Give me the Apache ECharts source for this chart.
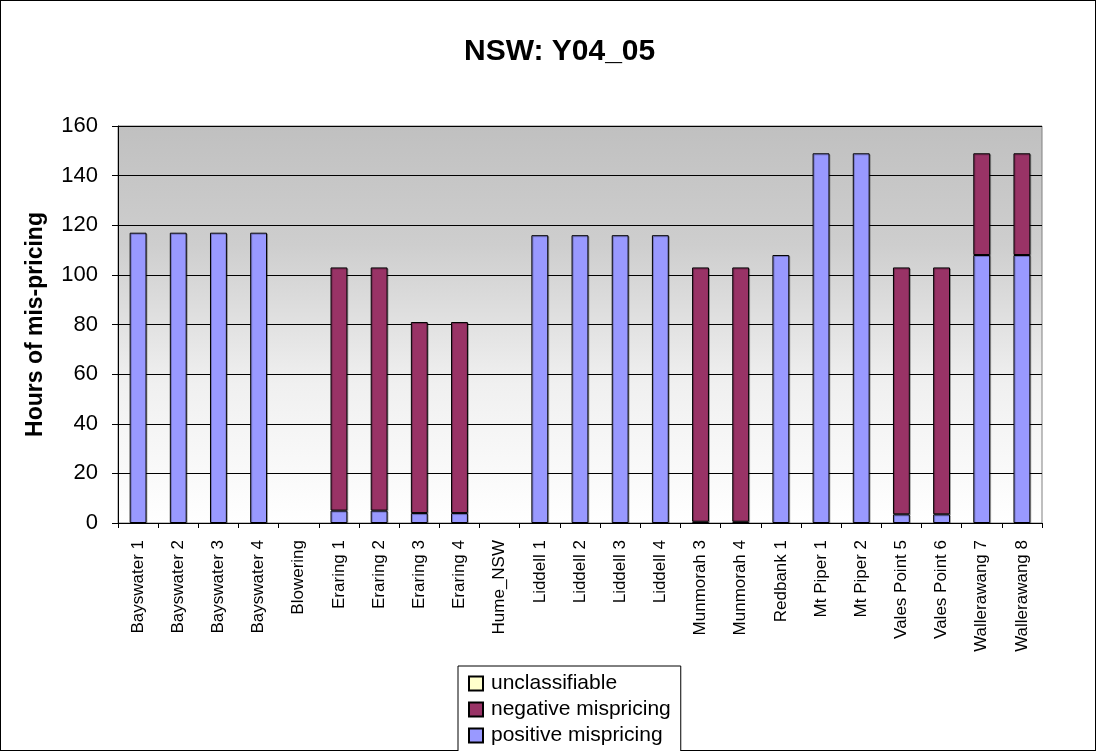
<!DOCTYPE html>
<html><head><meta charset="utf-8">
<script src="https://cdn.jsdelivr.net/npm/echarts@6/dist/echarts.min.js"></script>
<style>
html,body{margin:0;padding:0;background:#fff;}
#frame{position:absolute;left:0;top:0;width:1094px;height:749px;border:1px solid #000;}
#chart{position:absolute;left:0;top:0;width:1096px;height:751px;}
</style></head>
<body><div id="frame"></div><div id="chart"></div>
<script>
const categories = ["Bayswater 1","Bayswater 2","Bayswater 3","Bayswater 4","Blowering","Eraring 1","Eraring 2","Eraring 3","Eraring 4","Hume_NSW","Liddell 1","Liddell 2","Liddell 3","Liddell 4","Munmorah 3","Munmorah 4","Redbank 1","Mt Piper 1","Mt Piper 2","Vales Point 5","Vales Point 6","Wallerawang 7","Wallerawang 8"];
const positive = [117,117,117,117,0,5,5,4,4,0,116,116,116,116,0.5,0.5,108,149,149,3.5,3.5,108,108];
const negative = [0,0,0,0,0,98,98,77,77,0,0,0,0,0,102.5,102.5,0,0,0,99.5,99.5,41,41];
const unclassifiable = [0,0,0,0,0,0,0,0,0,0,0,0,0,0,0,0,0,0,0,0,0,0,0];
const yTicks = [0,20,40,60,80,100,120,140,160];

const clean = a => a.map(v => v === 0 ? '-' : v);
const chart = echarts.init(document.getElementById('chart'));
const barStyle = c => ({color:c, borderColor:'#000', borderWidth:1, shadowColor:'rgba(0,0,0,0.25)', shadowOffsetX:1, shadowOffsetY:1, shadowBlur:0});
const F = 'Liberation Sans, Arial';
chart.setOption({
  animation:false,
  title:{text:'NSW: Y04_05', left:459, top:32, textStyle:{fontFamily:F, fontWeight:'bold', fontSize:30, color:'#000'}},
  grid:{left:118, right:54, top:126, bottom:228, show:true, borderColor:'#808080', borderWidth:1,
    backgroundColor:{type:'linear',x:0,y:0,x2:0,y2:1,colorStops:[{offset:0,color:'#c0c0c0'},{offset:0.3,color:'#cecece'},{offset:0.65,color:'#f0f0f0'},{offset:1,color:'#ffffff'}]}},
  legend:{orient:'vertical', left:458, top:666, height:150, data:['unclassifiable','negative mispricing','positive mispricing'],
    itemWidth:14, itemHeight:14, itemGap:5, padding:[7,10,6,10], borderColor:'#000', borderWidth:1, backgroundColor:'#fff',
    icon:'rect', textStyle:{fontFamily:F, fontSize:21, color:'#000', padding:[0,0,0,3]}},
  xAxis:{type:'category', data:categories, boundaryGap:true,
    axisLine:{lineStyle:{color:'#000'}}, axisTick:{show:true, length:5, lineStyle:{color:'#000'}},
    axisLabel:{rotate:90, interval:0, fontFamily:F, fontSize:17, color:'#000', margin:17}},
  yAxis:{type:'value', min:yTicks[0], max:yTicks[yTicks.length-1], interval:20,
    name:'Hours of mis-pricing', nameLocation:'middle', nameGap:71, nameRotate:90,
    nameTextStyle:{fontFamily:F, fontWeight:'bold', fontSize:23, color:'#000'},
    axisLine:{show:true, lineStyle:{color:'#000'}}, axisTick:{show:true, length:6, lineStyle:{color:'#000'}},
    splitLine:{lineStyle:{color:'#000', width:1}},
    axisLabel:{fontFamily:F, fontSize:22, color:'#000', margin:20}},
  series:[
    {name:'positive mispricing', type:'bar', stack:'s', data:clean(positive), barWidth:'42%', itemStyle:barStyle('#9999ff')},
    {name:'negative mispricing', type:'bar', stack:'s', data:clean(negative), barWidth:'42%', itemStyle:barStyle('#993366')},
    {name:'unclassifiable', type:'bar', stack:'s', data:clean(unclassifiable), barWidth:'42%', itemStyle:barStyle('#ffffcc')}
  ]
});
</script></body></html>
